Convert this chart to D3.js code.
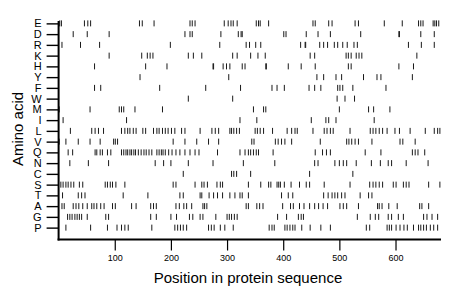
<!DOCTYPE html>
<html><head><meta charset="utf-8">
<script src="https://cdn.jsdelivr.net/npm/d3@7"></script>
<style>
html,body{margin:0;padding:0;background:#fff;}
svg{display:block;}
</style></head>
<body>
<svg id="c" width="460" height="299"></svg>
<script>
const aminoAcids = ["E","D","R","K","H","Y","F","W","M","I","L","V","Q","N","C","S","T","A","G","P"];
const xTicks = [100,200,300,400,500,600];
const xMax = 681;

const posE = [2,5,46,52,57,144,149,170,234,238,243,295,302,307,311,318,352,356,359,374,453,457,481,487,528,534,580,612,641,645,649,667,670,673,677];
const posD = [26,51,90,225,234,238,289,320,325,327,401,405,441,462,484,538,606,607,645,669];
const posR = [6,39,73,199,287,334,340,351,360,431,439,440,465,472,479,491,497,506,514,526,532,623,646,669];
const posK = [90,148,158,163,168,231,240,255,310,318,342,355,368,448,456,512,516,521,530,535,540,638];
const posH = [64,155,193,275,276,293,299,305,327,332,369,370,409,432,457,516,521,606,632];
const posY = [145,303,460,472,494,504,543,567,574,630];
const posF = [64,75,180,262,324,380,389,402,446,456,467,497,501,506,524,583];
const posW = [231,310,496,510,527];
const posM = [1,56,108,112,116,136,185,347,365,369,500,552,561,590];
const posI = [8,121,323,353,450,476,481,494,562];
const posL = [21,59,65,71,80,112,118,123,127,133,138,150,155,169,175,179,185,190,195,201,207,219,225,252,273,279,285,305,308,312,317,322,350,354,359,365,381,407,415,421,425,453,473,478,484,489,519,555,560,565,571,577,585,599,607,626,653,669,675,679];
const posV = [1,13,35,56,74,98,101,105,204,225,246,267,285,344,348,386,391,397,403,415,466,513,517,522,528,534,558,608,613,635];
const posQ = [17,25,65,68,74,78,87,93,112,116,120,123,127,130,134,137,142,147,152,156,161,166,175,179,183,186,190,196,202,209,216,225,234,243,250,283,323,332,338,342,347,352,356,382,457,470,477,484,546,574,630,635,640,652];
const posN = [20,53,89,172,187,200,231,275,329,385,456,462,492,500,507,513,530,557,573,587,593,619,658];
const posC = [222,308,312,317,342,447,524];
const posS = [4,8,13,17,22,27,37,43,83,87,92,96,102,118,204,209,243,255,259,265,282,288,292,338,360,374,378,389,392,395,402,414,429,441,447,473,519,554,560,565,571,577,596,601,614,619,624,659,679];
const posT = [7,35,41,47,115,159,216,222,252,255,268,276,283,292,305,314,323,327,338,397,409,417,472,480,487,492,497,504,510,537,552,558];
const posA = [6,10,26,31,36,43,51,59,63,68,75,81,96,101,130,138,164,169,174,209,215,223,228,237,257,260,264,334,338,353,358,364,399,413,418,429,437,447,456,463,471,479,501,507,513,534,568,571,576,588,603,643,647,659];
const posG = [16,20,24,29,33,37,41,51,84,89,164,174,200,210,233,239,252,257,280,300,304,308,313,318,390,406,427,432,436,532,555,564,570,587,593,605,614,650,656,665,675];
const posP = [13,57,87,104,112,118,124,166,207,212,217,222,228,267,272,277,288,296,311,375,380,384,403,407,412,417,421,433,448,467,484,548,554,585,589,593,601,608,615,621,632,641,645,650,655,662,668,675];

const positions = {E:posE,D:posD,R:posR,K:posK,H:posH,Y:posY,F:posF,W:posW,M:posM,I:posI,L:posL,V:posV,Q:posQ,N:posN,C:posC,S:posS,T:posT,A:posA,G:posG,P:posP};

const marks = [];
aminoAcids.forEach(a => positions[a].forEach(p => marks.push({aa:a, pos:p})));

const svg = d3.select("#c");
const left = 58.6, right = 441, axisY = 239.5;
const x = d3.scaleLinear().domain([0, xMax]).range([left, right]);
const y = d3.scalePoint().domain(aminoAcids).range([18, 233]).padding(0.5);

// marks
svg.append("g").selectAll("rect").data(marks).join("rect")
  .attr("x", d => x(d.pos) - 0.5)
  .attr("y", d => y(d.aa) - 3)
  .attr("width", 1)
  .attr("height", 6)
  .attr("fill", "#1a1a1a");

const font = "Liberation Sans, Arial, Helvetica, sans-serif";

// y axis
const yAxis = svg.append("g").attr("transform", `translate(${left},0)`)
  .call(d3.axisLeft(y).tickSize(12).tickPadding(5));
yAxis.select(".domain").remove();
yAxis.selectAll(".tick line").attr("stroke", "#000").attr("stroke-width", 1.4);
yAxis.selectAll(".tick text").attr("font-family", font).attr("font-size", 11).attr("fill", "#000");

// x axis
const xAxis = svg.append("g").attr("transform", `translate(0,${axisY})`)
  .call(d3.axisBottom(x).tickValues(xTicks).tickSize(11).tickPadding(4));
xAxis.select(".domain").remove();
xAxis.selectAll(".tick line").attr("stroke", "#000").attr("stroke-width", 1.2);
xAxis.selectAll(".tick text").attr("font-family", font).attr("font-size", 9).attr("fill", "#000");

// axis lines
svg.append("line").attr("x1", left).attr("x2", left).attr("y1", 21).attr("y2", axisY + 1)
  .attr("stroke", "#000").attr("stroke-width", 2);
svg.append("line").attr("x1", left - 1).attr("x2", right).attr("y1", axisY).attr("y2", axisY)
  .attr("stroke", "#000").attr("stroke-width", 2);

// titles
svg.append("text").attr("x", 248).attr("y", 283)
  .attr("text-anchor", "middle").attr("font-family", font).attr("font-size", 15)
  .text("Position in protein sequence");
svg.append("text").attr("transform", "translate(23,129) rotate(-90)")
  .attr("text-anchor", "middle").attr("font-family", font).attr("font-size", 15)
  .text("Amino acid");
</script>
</body></html>
